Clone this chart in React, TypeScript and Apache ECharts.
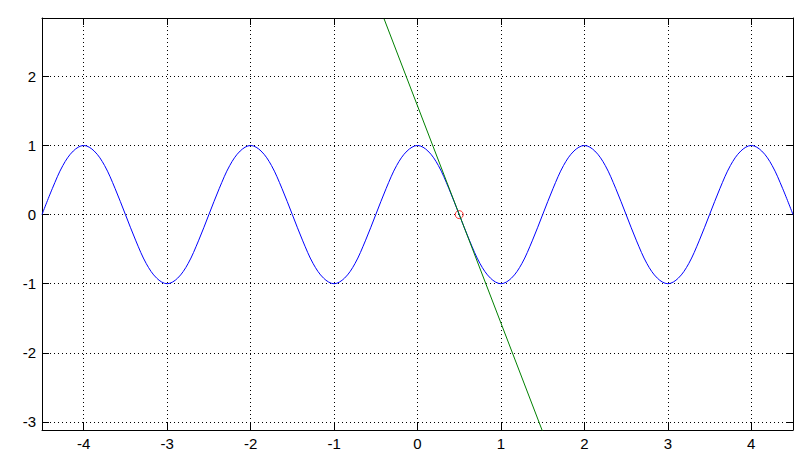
import React, { useEffect, useRef } from "react";
import * as echarts from "echarts";

const curveX: number[] = [
  -4.5, -4.375, -4.25, -4.125, -4, -3.875, -3.75, -3.625, -3.5, -3.375, -3.25, -3.125,
  -3, -2.875, -2.75, -2.625, -2.5, -2.375, -2.25, -2.125, -2, -1.875, -1.75, -1.625,
  -1.5, -1.375, -1.25, -1.125, -1, -0.875, -0.75, -0.625, -0.5, -0.375, -0.25, -0.125,
  0, 0.125, 0.25, 0.375, 0.5, 0.625, 0.75, 0.875, 1, 1.125, 1.25, 1.375,
  1.5, 1.625, 1.75, 1.875, 2, 2.125, 2.25, 2.375, 2.5, 2.625, 2.75, 2.875,
  3, 3.125, 3.25, 3.375, 3.5, 3.625, 3.75, 3.875, 4, 4.125, 4.25, 4.375, 4.5,
];
const curveY: number[] = [
  0, 0.38, 0.71, 0.92, 1, 0.92, 0.71, 0.38, 0, -0.38, -0.71, -0.92,
  -1, -0.92, -0.71, -0.38, 0, 0.38, 0.71, 0.92, 1, 0.92, 0.71, 0.38,
  0, -0.38, -0.71, -0.92, -1, -0.92, -0.71, -0.38, 0, 0.38, 0.71, 0.92,
  1, 0.92, 0.71, 0.38, 0, -0.38, -0.71, -0.92, -1, -0.92, -0.71, -0.38,
  0, 0.38, 0.71, 0.92, 1, 0.92, 0.71, 0.38, 0, -0.38, -0.71, -0.92,
  -1, -0.92, -0.71, -0.38, 0, 0.38, 0.71, 0.92, 1, 0.92, 0.71, 0.38, 0,
];
const tangentX: number[] = [-0.4, 1.5];
const tangentY: number[] = [2.83, -3.14];
const pointX: number[] = [0.5];
const pointY: number[] = [0];
const xLimits: number[] = [-4.5, 4.5];
const yLimits: number[] = [-3.116, 2.844];

const zip = (a: number[], b: number[]) => a.map((v, i) => [v, b[i]]);

const intLabel = (v: number) => (Math.abs(v - Math.round(v)) < 1e-9 ? String(Math.round(v)) : "");

export default function App() {
  const ref = useRef<HTMLDivElement>(null);
  useEffect(() => {
    if (!ref.current) return;
    const chart = echarts.init(ref.current, null, { renderer: "svg" });
    const font = { fontFamily: "Liberation Sans, Arial, sans-serif", fontSize: 15, color: "#000" };
    const baseX = {
      type: "value" as const,
      min: xLimits[0],
      max: xLimits[1],
      splitNumber: 9,
      axisLine: { show: true, onZero: false, lineStyle: { color: "#000", width: 1 } },
      axisTick: { show: true, inside: true, length: 7, lineStyle: { color: "#000" } },
    };
    const baseY = {
      type: "value" as const,
      min: yLimits[0],
      max: yLimits[1],
      splitNumber: 6,
      axisLine: { show: true, onZero: false, lineStyle: { color: "#000", width: 1 } },
      axisTick: { show: true, inside: true, length: 7, lineStyle: { color: "#000" } },
    };
    chart.setOption({
      animation: false,
      backgroundColor: "#fff",
      grid: { left: 42, top: 18, width: 751, height: 412, containLabel: false },
      xAxis: [
        {
          ...baseX,
          position: "bottom",
          axisLabel: { ...font, margin: 6, formatter: intLabel, showMinLabel: false, showMaxLabel: false },
          splitLine: { show: true, lineStyle: { color: "#000", type: [1, 3], width: 1 } },
        },
        {
          ...baseX,
          position: "top",
          axisLabel: { show: false },
          splitLine: { show: false },
        },
      ],
      yAxis: [
        {
          ...baseY,
          position: "left",
          axisLabel: { ...font, margin: 6, formatter: intLabel, showMinLabel: false, showMaxLabel: false },
          splitLine: { show: true, lineStyle: { color: "#000", type: [1, 3], width: 1 } },
        },
        {
          ...baseY,
          position: "right",
          axisLabel: { show: false },
          splitLine: { show: false },
        },
      ],
      series: [
        {
          type: "line",
          data: zip(curveX, curveY),
          smooth: 0.35,
          showSymbol: false,
          symbol: "none",
          lineStyle: { color: "#0000ff", width: 1 },
          clip: true,
        },
        {
          type: "line",
          data: zip(tangentX, tangentY),
          showSymbol: false,
          symbol: "none",
          lineStyle: { color: "#008000", width: 1 },
          clip: true,
        },
        {
          type: "scatter",
          data: zip(pointX, pointY),
          symbol: "circle",
          symbolSize: 8,
          itemStyle: { color: "rgba(0,0,0,0)", borderColor: "#ff0000", borderWidth: 1 },
        },
      ],
    });
    return () => chart.dispose();
  }, []);
  return (
    <div
      ref={ref}
      style={{ position: "absolute", left: 0, top: 0, width: 810, height: 467, background: "#fff" }}
    />
  );
}
